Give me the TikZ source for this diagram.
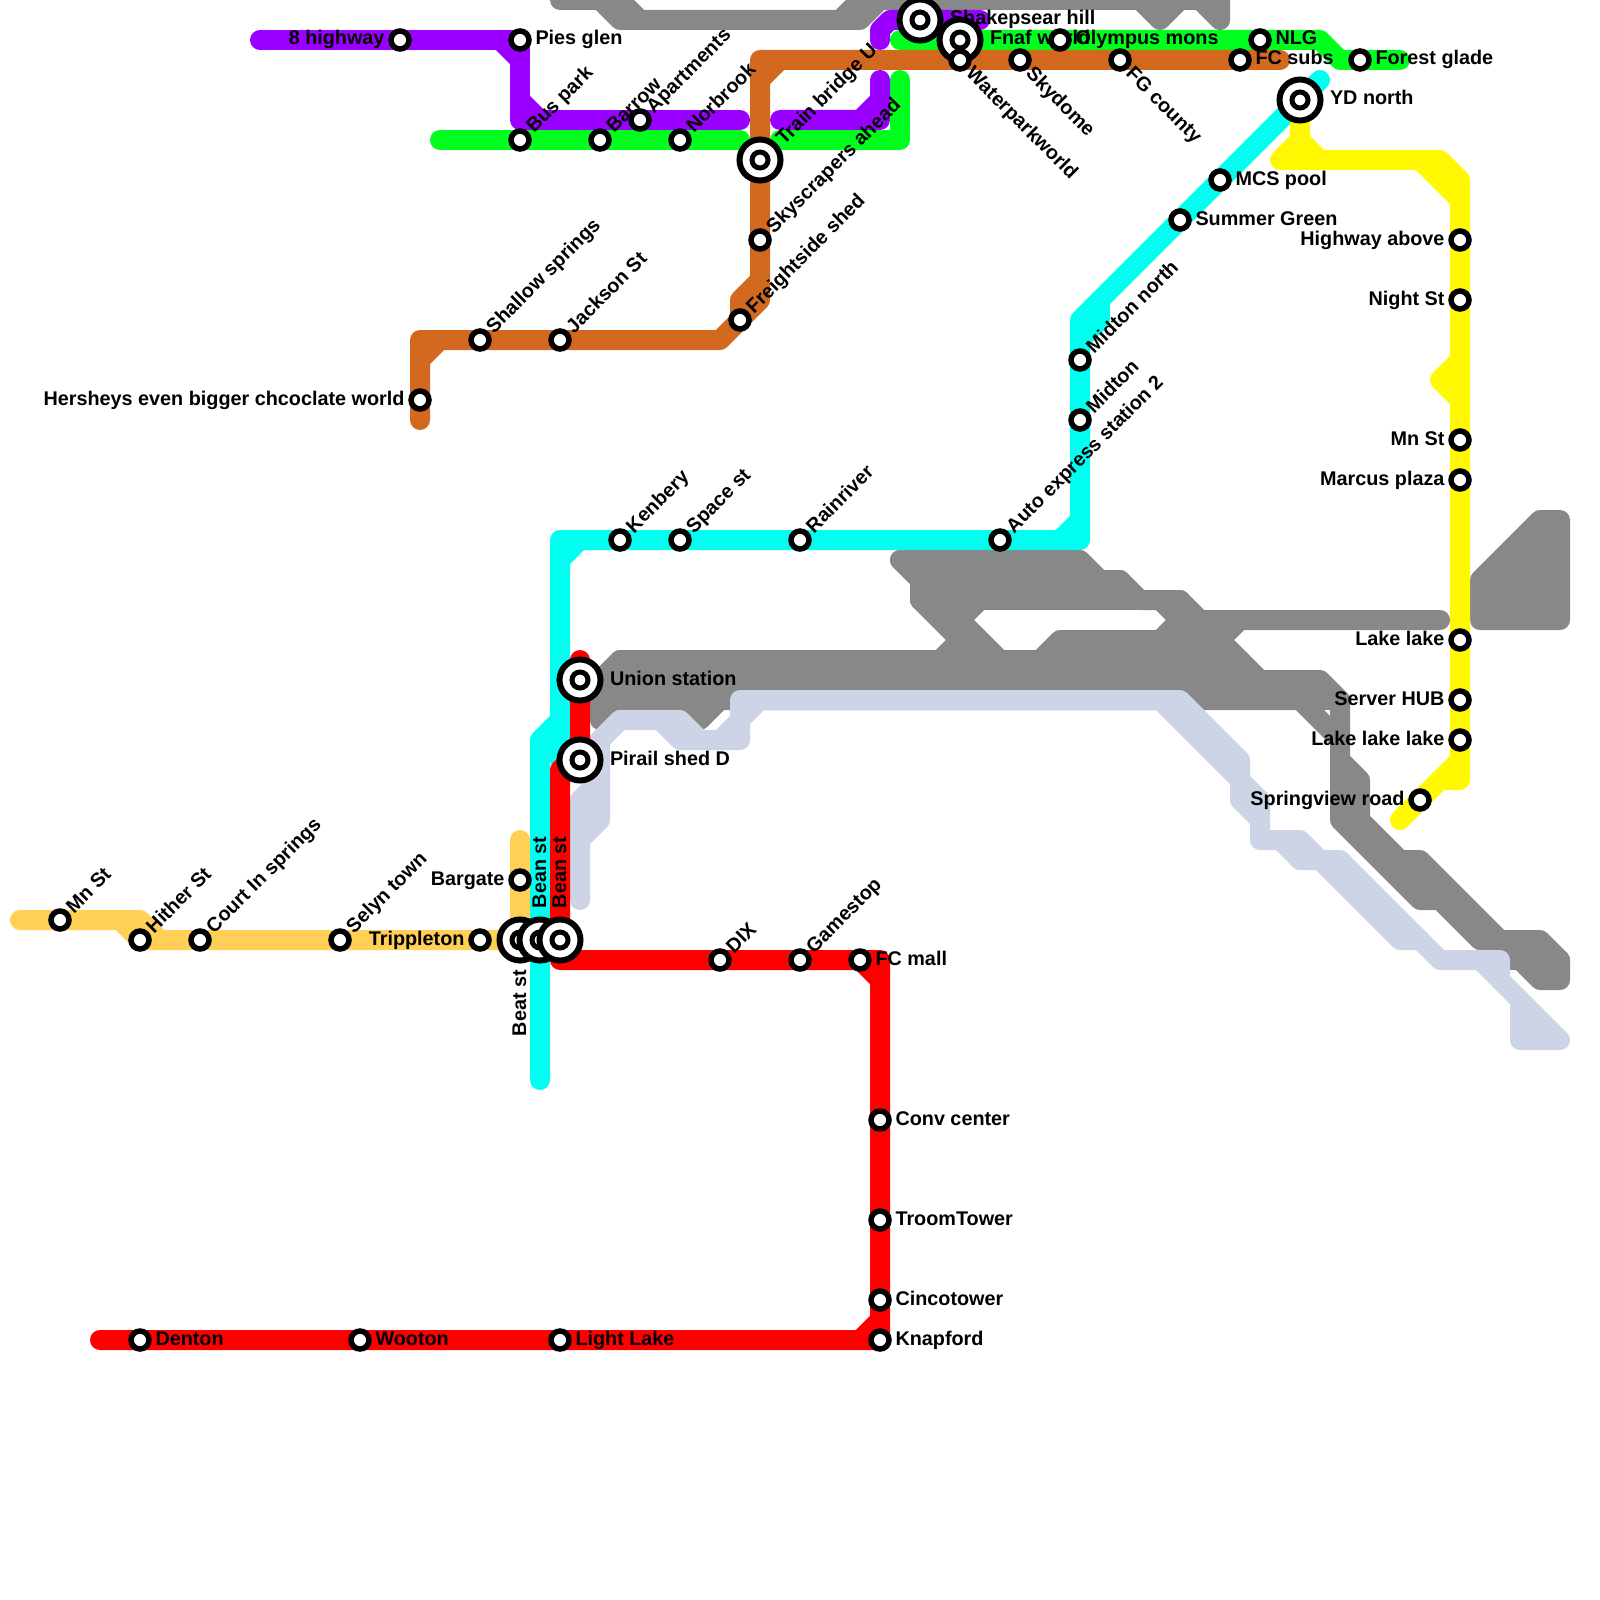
\documentclass[tikz,border=0pt]{standalone}
\usepackage{fontspec}
\setmainfont{Liberation Sans}[BoldFont={Liberation Sans Bold}]
\definecolor{cgray}{HTML}{888888}
\definecolor{clilac}{HTML}{CDD4E6}
\definecolor{ccyan}{HTML}{00FFF0}
\definecolor{cyell}{HTML}{FFF800}
\definecolor{csand}{HTML}{FFCF56}
\definecolor{cbrown}{HTML}{D2691E}
\definecolor{cpurp}{HTML}{9900FF}
\definecolor{cgreen}{HTML}{00FF1E}
\definecolor{cred}{HTML}{FF0000}
\tikzset{
  metro/.style={line width=20pt,line cap=round,line join=round},
  st/.style={circle,draw=black,fill=white,line width=5.5pt,minimum size=18pt,inner sep=0pt,outer sep=0pt},
  hubout/.style={circle,draw=black,fill=white,line width=6pt,minimum size=41pt,inner sep=0pt,outer sep=0pt},
  hubin/.style={circle,draw=black,fill=white,line width=5pt,minimum size=16pt,inner sep=0pt,outer sep=0pt},
  txt/.style={font=\bfseries\fontsize{19.8pt}{22pt}\selectfont,text=black,inner sep=0pt,outer sep=0pt},
  lr/.style={txt,anchor=base west,xshift=15.5pt,yshift=-5pt},
  ll/.style={txt,anchor=base east,xshift=-15.5pt,yshift=-5pt},
  lu/.style={txt,xshift=14pt,yshift=6pt,rotate=45,anchor=base west},
  ld/.style={txt,xshift=5pt,yshift=-15pt,rotate=-45,anchor=base west},
  hr/.style={txt,anchor=base west,xshift=30pt,yshift=-5pt},
  hu/.style={txt,xshift=24pt,yshift=14pt,rotate=45,anchor=base west},
  vu/.style={txt,xshift=6pt,yshift=32pt,rotate=90,anchor=base west},
  vd/.style={txt,xshift=6pt,yshift=-30pt,rotate=90,anchor=base east},
}
\newcommand{\stn}[5]{\node[st] (#1) at (#2,#3) {}; \node[#4] (#1-l) at (#1) {#5};}
\newcommand{\hubn}[5]{\node[hubout] (#1) at (#2,#3) {}; \node[hubin] (#1-c) at (#1) {}; \node[#4] (#1-l) at (#1) {#5};}
\begin{document}
\begin{tikzpicture}[x=1pt,y=-1pt]
\useasboundingbox (0,0) rectangle (1600,1600);
\clip (0,0) rectangle (1600,1600);
\fill[white] (0,0) rectangle (1600,1600);
% gray
\begin{scope}[metro,draw=cgray]
\draw (560,0)--(620,0)--(640,20); \draw (600,0)--(620,20)--(860,20)--(880,0)--(1220,0)--(1220,20)--(1200,0);
\draw (860,0)--(840,20); \draw (1140,0)--(1160,20)--(1180,0);
\draw (900,560)--(1080,560)--(1100,580)--(1120,580)--(1140,600)--(1180,600)--(1200,620)--(1440,620);
\draw (900,560)--(920,580)--(1120,580); \draw (920,580)--(920,600)--(1180,600);
\draw (920,600)--(980,660); \draw (940,600)--(1000,660);
\draw (960,640)--(940,660); \draw (980,600)--(960,620);
\draw (1040,660)--(1060,640)--(1220,640); \draw (1180,620)--(1160,640); \draw (1160,600)--(1220,660);
\draw (1240,620)--(1220,640)--(1260,680);
\draw (620,660)--(1240,660); \draw (600,680)--(1320,680)--(1340,700)--(1340,820)--(1420,900)--(1440,900)--(1480,940)--(1540,940)--(1560,960)--(1560,980)--(1540,980)--(1420,860)--(1400,860)--(1360,820)--(1360,780)--(1340,760);
\draw (620,660)--(600,680)--(600,720)--(620,700)--(680,700)--(700,720)--(720,700);
\draw (600,700)--(1300,700)--(1340,740); \draw (1300,700)--(1340,700);
\draw (1400,860)--(1480,940); \draw (1500,960)--(1560,960);
\draw[fill=cgray] (1480,580)--(1540,520)--(1560,520)--(1560,620)--(1480,620)--cycle;
\end{scope}
% lilac
\begin{scope}[metro,draw=clilac]
\draw (580,900)--(580,800)--(600,780); \draw (580,840)--(600,820)--(600,740)--(620,720)--(660,720)--(680,740)--(740,740)--(740,700)--(1180,700)--(1240,760)--(1240,800)--(1260,820)--(1260,840)--(1300,840)--(1320,860)--(1340,860)--(1440,960)--(1500,960)--(1500,980);
\draw (620,720)--(590,750); \draw (660,720)--(680,720)--(700,740); \draw (720,740)--(740,720)--(760,700);
\draw (1160,700)--(1260,800)--(1260,820);
\draw (1300,860)--(1320,860)--(1400,940)--(1420,940); \draw (1280,840)--(1300,860);
\draw[fill=clilac] (1480,960)--(1560,1040)--(1520,1040)--(1520,1000)--cycle;
\end{scope}
% cyan
\begin{scope}[metro,draw=ccyan]
\draw (560,720)--(560,760); \draw (560,560)--(580,540); \draw (1060,540)--(1080,520);
\draw (1100,300)--(1100,320)--(1080,340);
\draw (560,720)--(560,540)--(1080,540)--(1080,320)--(1320,80);
\end{scope}
% yellow
\begin{scope}[metro,draw=cyell]
\draw (1300,100)--(1300,140)--(1320,160)--(1440,160)--(1460,180)--(1460,780)--(1440,780);
\draw (1320,160)--(1280,160)--(1300,140); \draw (1420,160)--(1460,200);
\draw (1460,360)--(1440,380)--(1460,400); \draw (1400,820)--(1460,760);
\end{scope}
% sand
\begin{scope}[metro,draw=csand]
\draw (20,920)--(140,920)--(160,940); \draw (120,920)--(140,940)--(520,940); \draw (520,840)--(520,940);
\end{scope}
\draw[metro,draw=ccyan] (540,1080)--(540,740)--(560,720);
% green
\begin{scope}[metro,draw=cgreen]
\draw (440,140)--(740,140);
\draw (780,140)--(900,140)--(900,80);
\draw (900,40)--(1320,40)--(1340,60)--(1400,60);
\end{scope}
% purple
\begin{scope}[metro,draw=cpurp]
\draw (260,40)--(520,40)--(520,120)--(740,120); \draw (500,40)--(520,60); \draw (520,100)--(540,120);
\draw (780,120)--(860,120)--(880,100)--(880,80);
\draw (860,120)--(880,120)--(880,100);
\draw (880,40)--(880,30)--(890,20)--(980,20);
\end{scope}
% brown
\begin{scope}[metro,draw=cbrown]
\draw (420,420)--(420,340)--(720,340)--(760,300)--(760,60)--(1280,60);
\draw (420,360)--(440,340); \draw (760,80)--(780,60); \draw (740,320)--(740,300)--(760,280);
\end{scope}
% red
\begin{scope}[metro,draw=cred]
\draw (580,660)--(580,750)--(560,770)--(560,960)--(880,960)--(880,1340)--(100,1340);
\draw (860,960)--(880,980); \draw (860,1340)--(880,1320);
\end{scope}
% stations
\stn{highway}{400}{40}{ll}{8 highway}
\stn{pies}{520}{40}{lr}{Pies glen}
\stn{bus}{520}{140}{lu}{Bus park}
\stn{barrow}{600}{140}{lu}{Barrow}
\stn{apart}{640}{120}{lu}{Apartments}
\stn{norb}{680}{140}{lu}{Norbrook}
\hubn{train}{760}{160}{hu}{Train bridge U}
\stn{sky}{760}{240}{lu}{Skyscrapers ahead}
\stn{freight}{740}{320}{lu}{Freightside shed}
\stn{shallow}{480}{340}{lu}{Shallow springs}
\stn{jack}{560}{340}{lu}{Jackson St}
\stn{hersh}{420}{400}{ll}{Hersheys even bigger chcoclate world}
\stn{mnw}{60}{920}{lu}{Mn St}
\stn{hither}{140}{940}{lu}{Hither St}
\stn{court}{200}{940}{lu}{Court In springs}
\stn{selyn}{340}{940}{lu}{Selyn town}
\stn{tripp}{480}{940}{ll}{Trippleton}
\stn{barg}{520}{880}{ll}{Bargate}
\stn{ken}{620}{540}{lu}{Kenbery}
\stn{space}{680}{540}{lu}{Space st}
\stn{rain}{800}{540}{lu}{Rainriver}
\stn{auto}{1000}{540}{lu}{Auto express station 2}
\stn{midt}{1080}{420}{lu}{Midton}
\stn{midn}{1080}{360}{lu}{Midton north}
\stn{summer}{1180}{220}{lr}{Summer Green}
\stn{mcs}{1220}{180}{lr}{MCS pool}
\hubn{yd}{1300}{100}{hr}{YD north}
\stn{hwya}{1460}{240}{ll}{Highway above}
\stn{night}{1460}{300}{ll}{Night St}
\stn{mne}{1460}{440}{ll}{Mn St}
\stn{marcus}{1460}{480}{ll}{Marcus plaza}
\stn{lake}{1460}{640}{ll}{Lake lake}
\stn{server}{1460}{700}{ll}{Server HUB}
\stn{lakel}{1460}{740}{ll}{Lake lake lake}
\stn{spring}{1420}{800}{ll}{Springview road}
\hubn{union}{580}{680}{hr}{Union station}
\hubn{pirail}{580}{760}{hr}{Pirail shed D}
\stn{dix}{720}{960}{lu}{DIX}
\stn{game}{800}{960}{lu}{Gamestop}
\stn{fcm}{860}{960}{lr}{FC mall}
\stn{conv}{880}{1120}{lr}{Conv center}
\stn{troom}{880}{1220}{lr}{TroomTower}
\stn{cinco}{880}{1300}{lr}{Cincotower}
\stn{knap}{880}{1340}{lr}{Knapford}
\stn{light}{560}{1340}{lr}{Light Lake}
\stn{woot}{360}{1340}{lr}{Wooton}
\stn{dent}{140}{1340}{lr}{Denton}
\hubn{beat}{520}{940}{vd}{Beat st}
\hubn{beana}{540}{940}{vu}{Bean st}
\hubn{beanb}{560}{940}{vu}{Bean st}
\hubn{shake}{920}{20}{hr}{Shakepsear hill}
\hubn{fnaf}{960}{40}{hr}{Fnaf world}
\stn{water}{960}{60}{ld}{Waterparkworld}
\stn{skyd}{1020}{60}{ld}{Skydome}
\stn{fgc}{1120}{60}{ld}{FG county}
\stn{fcs}{1240}{60}{lr}{FC subs}
\stn{olymp}{1060}{40}{lr}{Olympus mons}
\stn{nlg}{1260}{40}{lr}{NLG}
\stn{forest}{1360}{60}{lr}{Forest glade}
\end{tikzpicture}
\end{document}
